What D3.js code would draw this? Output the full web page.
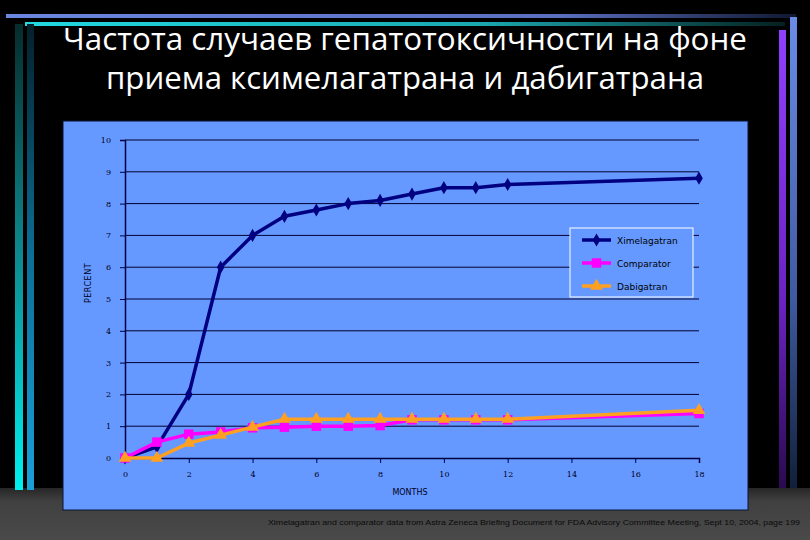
<!DOCTYPE html>
<html>
<head>
<meta charset="utf-8">
<script src="https://cdn.jsdelivr.net/npm/d3@7"></script>
<style>
  body { margin: 0; background: #000; }
  svg { display: block; }
</style>
</head>
<body>
<div id="chart"></div>
<script>
const width = 810;
const height = 540;

// data
const months = [0, 1, 2, 3, 4, 5, 6, 7, 8, 9, 10, 11, 12, 18];
const ximelagatran = [0, 0.35, 2, 6, 7, 7.6, 7.8, 8, 8.1, 8.3, 8.5, 8.5, 8.6, 8.8];
const comparator = [0, 0.5, 0.75, 0.82, 0.95, 0.97, 1.0, 1.0, 1.02, 1.2, 1.2, 1.2, 1.2, 1.4];
const dabigatran = [0, 0, 0.47, 0.72, 0.97, 1.22, 1.22, 1.22, 1.22, 1.22, 1.22, 1.22, 1.22, 1.5];
const xTicks = [0, 2, 4, 6, 8, 10, 12, 14, 16, 18];
const yTicks = [0, 1, 2, 3, 4, 5, 6, 7, 8, 9, 10];
const seriesNames = ["Ximelagatran", "Comparator", "Dabigatran"];

const svg = d3.select("#chart")
  .append("svg")
  .attr("width", width)
  .attr("height", height);

const defs = svg.append("defs");

function grad(id, x2, y2, stops) {
  const g = defs.append("linearGradient")
    .attr("id", id)
    .attr("x1", 0).attr("y1", 0)
    .attr("x2", x2).attr("y2", y2);
  stops.forEach(s => g.append("stop").attr("offset", s[0]).attr("stop-color", s[1]));
}

grad("topBlue", 1, 0, [[0, "#6a86e0"], [0.7, "#5a6fc0"], [1, "#101830"]]);
grad("topCyan", 1, 0, [[0, "#22d8e0"], [0.6, "#1aa8b0"], [1, "#05201f"]]);
grad("leftCyan", 0, 1, [[0, "#062c2c"], [0.5, "#0d8a90"], [1, "#00f0f0"]]);
grad("leftBlue", 0, 1, [[0, "#04202a"], [0.5, "#0c6f96"], [1, "#1aa0d8"]]);
grad("rightPurple", 0, 1, [[0, "#9040ff"], [0.6, "#6a22c0"], [1, "#2a0a50"]]);
grad("rightBlue", 0, 1, [[0, "#6a8ce8"], [0.6, "#3e5aa0"], [1, "#10203a"]]);
grad("bottomGray", 0, 1, [[0, "#262626"], [0.25, "#404040"], [1, "#4a4a4a"]]);

// background decorations
svg.append("rect").attr("width", width).attr("height", height).attr("fill", "#000");
svg.append("rect").attr("x", 0).attr("y", 488).attr("width", width).attr("height", 52).attr("fill", "url(#bottomGray)");
svg.append("rect").attr("x", 6).attr("y", 14).attr("width", 790).attr("height", 4).attr("fill", "url(#topBlue)");
svg.append("rect").attr("x", 25).attr("y", 22).attr("width", 760).attr("height", 4).attr("fill", "url(#topCyan)");
svg.append("rect").attr("x", 15).attr("y", 24).attr("width", 8).attr("height", 466).attr("fill", "url(#leftCyan)");
svg.append("rect").attr("x", 27).attr("y", 24).attr("width", 7).attr("height", 466).attr("fill", "url(#leftBlue)");
svg.append("rect").attr("x", 779).attr("y", 30).attr("width", 7).attr("height", 458).attr("fill", "url(#rightPurple)");
svg.append("rect").attr("x", 790).attr("y", 17).attr("width", 7).attr("height", 471).attr("fill", "url(#rightBlue)");

// title
const title = svg.append("g")
  .attr("fill", "#fff")
  .attr("font-family", "'Open Sans', 'Noto Sans', sans-serif")
  .attr("font-size", 31)
  .attr("text-anchor", "middle");
title.append("text")
  .attr("x", 405).attr("y", 50)
  .attr("textLength", 684).attr("lengthAdjust", "spacingAndGlyphs")
  .text("Частота случаев гепатотоксичности на фоне");
title.append("text")
  .attr("x", 405).attr("y", 89)
  .attr("textLength", 598).attr("lengthAdjust", "spacingAndGlyphs")
  .text("приема ксимелагатрана и дабигатрана");

// chart panel
svg.append("rect")
  .attr("x", 63).attr("y", 121)
  .attr("width", 685).attr("height", 389)
  .attr("fill", "#6699ff")
  .attr("stroke", "#0a1430").attr("stroke-width", 1);

const x = d3.scaleLinear().domain([0, 18]).range([125, 699]);
const y = d3.scaleLinear().domain([0, 10]).range([458, 140]);

// gridlines
svg.append("g")
  .selectAll("line")
  .data(yTicks.slice(1))
  .enter()
  .append("line")
  .attr("x1", x(0)).attr("x2", x(18))
  .attr("y1", d => y(d)).attr("y2", d => y(d))
  .attr("stroke", "#000033").attr("stroke-width", 1);

// axes
const yAxis = svg.append("g")
  .attr("transform", `translate(${x(0)},0)`)
  .call(d3.axisLeft(y).tickValues(yTicks).tickSize(5).tickPadding(9).tickFormat(d3.format("d")));
const xAxis = svg.append("g")
  .attr("transform", `translate(0,${y(0)})`)
  .call(d3.axisBottom(x).tickValues(xTicks).tickSize(5).tickPadding(8).tickFormat(d3.format("d")));

[yAxis, xAxis].forEach(a => {
  a.select(".domain").attr("stroke", "#000044").attr("stroke-width", 1.5);
  a.selectAll(".tick line").attr("stroke", "#000044");
  a.selectAll("text")
    .attr("fill", "#000022")
    .attr("font-family", "'DejaVu Serif', serif")
    .attr("font-size", 8);
});

svg.append("text")
  .attr("transform", "translate(91,283) rotate(-90)")
  .attr("text-anchor", "middle")
  .attr("font-family", "'DejaVu Sans', sans-serif")
  .attr("font-size", 8)
  .attr("fill", "#000022")
  .attr("letter-spacing", 0.5)
  .text("PERCENT");

svg.append("text")
  .attr("x", 410).attr("y", 495)
  .attr("text-anchor", "middle")
  .attr("font-family", "'DejaVu Sans', sans-serif")
  .attr("font-size", 8)
  .attr("fill", "#000022")
  .text("MONTHS");

// series
const series = [
  { name: seriesNames[0], values: ximelagatran, color: "#000080", symbol: d3.symbolDiamond, size: 50 },
  { name: seriesNames[1], values: comparator, color: "#ff00ff", symbol: d3.symbolSquare, size: 90 },
  { name: seriesNames[2], values: dabigatran, color: "#ffa020", symbol: d3.symbolTriangle, size: 70 }
];

const line = d3.line()
  .x(d => x(d[0]))
  .y(d => y(d[1]));

series.forEach(s => {
  const pts = months.map((m, i) => [m, s.values[i]]);
  const g = svg.append("g");
  g.append("path")
    .datum(pts)
    .attr("d", line)
    .attr("fill", "none")
    .attr("stroke", s.color)
    .attr("stroke-width", 3.5)
    .attr("stroke-linejoin", "round");
  g.selectAll("path.marker")
    .data(pts)
    .enter()
    .append("path")
    .attr("class", "marker")
    .attr("transform", d => `translate(${x(d[0])},${y(d[1])})`)
    .attr("d", d3.symbol().type(s.symbol).size(s.size))
    .attr("fill", s.color);
});

// legend
const legend = svg.append("g").attr("transform", "translate(570,228)");
legend.append("rect")
  .attr("width", 123).attr("height", 69)
  .attr("fill", "#6699ff")
  .attr("stroke", "#ffffff").attr("stroke-width", 1);
series.forEach((s, i) => {
  const row = legend.append("g").attr("transform", `translate(0,${12 + i * 23})`);
  row.append("line")
    .attr("x1", 12).attr("x2", 41)
    .attr("stroke", s.color).attr("stroke-width", 3.5);
  row.append("path")
    .attr("transform", "translate(26.5,0)")
    .attr("d", d3.symbol().type(s.symbol).size(s.size))
    .attr("fill", s.color);
  row.append("text")
    .attr("x", 47).attr("y", 3.5)
    .attr("font-family", "'DejaVu Sans', sans-serif")
    .attr("font-size", 9)
    .attr("fill", "#000")
    .text(s.name);
});

// source note
svg.append("text")
  .attr("x", 800).attr("y", 525)
  .attr("text-anchor", "end")
  .attr("font-family", "'Liberation Sans', sans-serif")
  .attr("font-size", 8)
  .attr("fill", "#0a0a0a")
  .attr("textLength", 532).attr("lengthAdjust", "spacingAndGlyphs")
  .text("Ximelagatran and comparator data from Astra Zeneca Briefing Document for FDA Advisory Committee Meeting, Sept 10, 2004, page 199");
</script>
</body>
</html>
